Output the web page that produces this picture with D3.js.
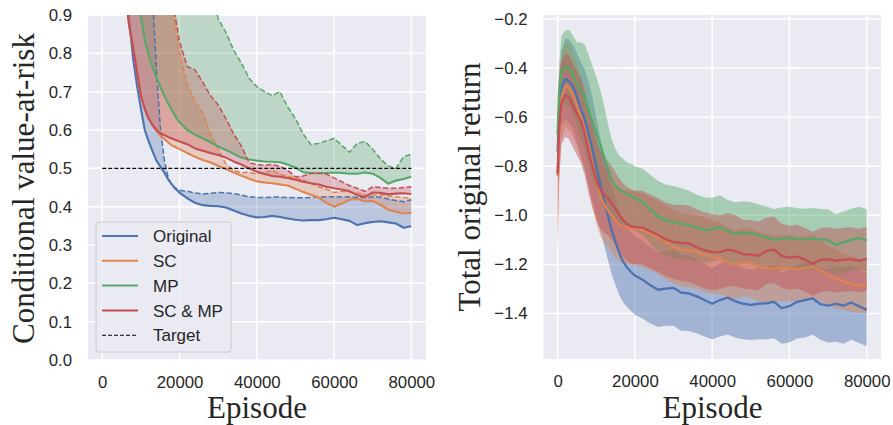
<!DOCTYPE html>
<html><head><meta charset="utf-8">
<script src="https://cdn.jsdelivr.net/npm/d3@7"></script>
<style>body{margin:0;background:#fff}svg{display:block}</style>
</head><body>
<svg id="c" width="893" height="425"></svg>
<script>
// ---------- DATA: left panel (CVaR) ----------
const episodesL = [0,2000,4000,6000,7000,8000,9000,10000,11000,12000,13000,14000,15000,16000,17000,18000,19000,20000,
  22000,24000,26000,28000,30000,32000,34000,36000,38000,40000,42000,44000,46000,48000,50000,52000,54000,56000,58000,60000,
  62000,64000,66000,68000,70000,72000,74000,76000,78000,80000];
const cvarOriginal = [1.6,1.35,1.12,0.98,0.88,0.785,0.715,0.655,0.60,0.57,0.545,0.52,0.505,0.49,0.472,0.458,0.446,0.436,
  0.422,0.41,0.404,0.402,0.401,0.398,0.39,0.382,0.376,0.372,0.373,0.376,0.373,0.369,0.366,0.364,0.365,0.365,0.367,0.371,
  0.367,0.363,0.352,0.357,0.36,0.362,0.359,0.356,0.345,0.349];
const cvarOriginalUpper = [1.9,1.8,1.7,1.6,1.55,1.5,1.45,1.4,1.3,1.2,0.95,0.76,0.61,0.525,0.478,0.456,0.448,0.443,
  0.44,0.436,0.433,0.435,0.437,0.436,0.434,0.43,0.426,0.424,0.424,0.425,0.425,0.424,0.423,0.423,0.424,0.425,0.426,0.426,
  0.425,0.425,0.424,0.424,0.425,0.425,0.42,0.416,0.413,0.418];
const cvarSC = [1.7,1.45,1.2,0.95,0.87,0.815,0.75,0.69,0.655,0.63,0.613,0.598,0.585,0.577,0.568,0.56,0.555,0.55,
  0.54,0.53,0.522,0.515,0.507,0.498,0.489,0.481,0.473,0.466,0.463,0.461,0.458,0.455,0.447,0.438,0.431,0.424,0.41,0.4,
  0.408,0.418,0.42,0.414,0.415,0.405,0.392,0.387,0.382,0.384];
const cvarSCUpper = [2.4,2.2,2.0,1.8,1.7,1.6,1.5,1.45,1.4,1.3,1.25,1.2,1.15,1.05,0.98,0.93,0.86,0.80,
  0.72,0.675,0.645,0.59,0.55,0.512,0.495,0.488,0.49,0.485,0.49,0.494,0.485,0.478,0.476,0.47,0.46,0.452,0.446,0.437,
  0.44,0.439,0.436,0.432,0.43,0.431,0.428,0.426,0.424,0.423];
const cvarMP = [1.8,1.6,1.45,1.25,1.12,1.02,0.95,0.895,0.835,0.795,0.765,0.738,0.713,0.69,0.67,0.652,0.635,0.62,
  0.6,0.588,0.578,0.568,0.557,0.548,0.538,0.528,0.523,0.52,0.518,0.517,0.516,0.51,0.502,0.49,0.487,0.487,0.488,0.489,
  0.488,0.486,0.486,0.489,0.486,0.475,0.46,0.468,0.472,0.478];
const cvarMPUpper = [3.0,2.8,2.6,2.4,2.3,2.2,2.1,2.0,1.9,1.85,1.8,1.75,1.7,1.6,1.55,1.5,1.45,1.4,
  1.3,1.2,1.1,0.98,0.89,0.855,0.808,0.775,0.735,0.713,0.70,0.69,0.70,0.66,0.63,0.59,0.562,0.565,0.572,0.578,
  0.56,0.542,0.565,0.57,0.55,0.525,0.506,0.5,0.53,0.537];
const cvarSCMP = [1.7,1.45,1.2,0.95,0.87,0.815,0.75,0.69,0.655,0.63,0.613,0.60,0.592,0.587,0.582,0.578,0.574,0.57,
  0.563,0.552,0.546,0.54,0.535,0.528,0.518,0.51,0.5,0.491,0.485,0.48,0.478,0.475,0.47,0.465,0.461,0.458,0.452,0.448,
  0.445,0.44,0.43,0.425,0.437,0.436,0.432,0.434,0.435,0.433];
const cvarSCMPUpper = [2.4,2.2,2.0,1.8,1.7,1.6,1.5,1.45,1.4,1.35,1.3,1.25,1.2,1.15,1.08,0.99,0.89,0.83,
  0.765,0.757,0.725,0.69,0.665,0.63,0.59,0.558,0.515,0.51,0.508,0.51,0.505,0.495,0.478,0.48,0.487,0.488,0.485,0.475,
  0.465,0.455,0.448,0.44,0.452,0.45,0.448,0.448,0.45,0.452];
const targetEpisodes = [0, 80000];
const targetValue = 0.5;

// ---------- DATA: right panel (return) ----------
const episodesR = [0,400,1000,2000,3000,4000,5000,6000,7000,8000,9000,10000,11000,12000,13000,14000,15000,16000,17000,18000,19000,20000,
  22000,24000,26000,28000,30000,32000,34000,36000,38000,40000,42000,44000,46000,48000,50000,52000,54000,56000,58000,60000,
  62000,64000,66000,68000,70000,72000,74000,76000,78000,80000];
const retOriginal = [-0.74,-0.58,-0.48,-0.445,-0.455,-0.475,-0.52,-0.565,-0.605,-0.665,-0.73,-0.80,-0.87,-0.94,-1.0,-1.06,-1.11,-1.155,-1.19,-1.213,-1.23,-1.245,
  -1.262,-1.285,-1.303,-1.298,-1.295,-1.315,-1.318,-1.33,-1.345,-1.36,-1.345,-1.335,-1.35,-1.36,-1.365,-1.36,-1.358,-1.352,-1.378,-1.37,
  -1.352,-1.345,-1.338,-1.362,-1.368,-1.36,-1.368,-1.355,-1.37,-1.385];
const retOriginalStd = [0.08,0.12,0.15,0.165,0.17,0.17,0.18,0.19,0.2,0.21,0.21,0.2,0.19,0.18,0.18,0.18,0.175,0.17,0.165,0.16,0.16,0.16,
  0.158,0.155,0.152,0.152,0.155,0.155,0.153,0.15,0.148,0.145,0.148,0.15,0.148,0.145,0.143,0.145,0.148,0.148,0.145,0.148,
  0.15,0.152,0.148,0.145,0.15,0.155,0.155,0.152,0.15,0.148];
const retSC = [-0.84,-0.66,-0.52,-0.47,-0.48,-0.51,-0.55,-0.6,-0.65,-0.72,-0.79,-0.86,-0.92,-0.955,-0.98,-1.0,-1.02,-1.038,-1.045,-1.048,-1.05,-1.052,
  -1.06,-1.075,-1.09,-1.11,-1.128,-1.14,-1.143,-1.15,-1.16,-1.168,-1.175,-1.19,-1.203,-1.19,-1.195,-1.21,-1.215,-1.218,-1.213,-1.215,
  -1.22,-1.215,-1.21,-1.225,-1.245,-1.258,-1.27,-1.28,-1.285,-1.29];
const retSCStd = [0.25,0.2,0.17,0.17,0.17,0.17,0.17,0.17,0.17,0.17,0.17,0.17,0.16,0.155,0.15,0.15,0.15,0.15,0.15,0.15,0.15,0.15,
  0.15,0.15,0.15,0.15,0.15,0.15,0.15,0.15,0.15,0.15,0.145,0.145,0.14,0.14,0.14,0.14,0.14,0.135,0.135,0.135,
  0.13,0.13,0.13,0.125,0.12,0.12,0.115,0.115,0.11,0.11];
const retMP = [-0.67,-0.5,-0.41,-0.395,-0.40,-0.43,-0.465,-0.49,-0.52,-0.57,-0.62,-0.665,-0.71,-0.76,-0.81,-0.855,-0.88,-0.895,-0.905,-0.915,-0.92,-0.93,
  -0.945,-0.975,-1.005,-1.02,-1.027,-1.035,-1.04,-1.05,-1.06,-1.058,-1.048,-1.065,-1.075,-1.07,-1.072,-1.08,-1.09,-1.1,-1.095,-1.092,
  -1.097,-1.098,-1.095,-1.098,-1.1,-1.12,-1.11,-1.1,-1.092,-1.102];
const retMPStd = [0.08,0.12,0.14,0.15,0.155,0.16,0.17,0.195,0.215,0.225,0.23,0.23,0.225,0.21,0.185,0.165,0.15,0.138,0.135,0.13,0.13,0.13,
  0.135,0.14,0.145,0.145,0.147,0.145,0.14,0.135,0.133,0.13,0.13,0.128,0.128,0.127,0.126,0.125,0.126,0.126,0.127,0.127,
  0.126,0.125,0.125,0.124,0.125,0.125,0.126,0.127,0.127,0.127];
const retSCMP = [-0.83,-0.64,-0.54,-0.51,-0.52,-0.555,-0.585,-0.615,-0.665,-0.74,-0.80,-0.855,-0.895,-0.915,-0.93,-0.95,-0.975,-1.0,-1.02,-1.035,-1.045,-1.048,
  -1.05,-1.065,-1.08,-1.098,-1.108,-1.112,-1.115,-1.13,-1.142,-1.15,-1.15,-1.14,-1.145,-1.158,-1.16,-1.165,-1.145,-1.14,-1.165,-1.172,
  -1.168,-1.18,-1.197,-1.182,-1.178,-1.185,-1.18,-1.178,-1.185,-1.177];
const retSCMPStd = [0.32,0.22,0.17,0.17,0.17,0.17,0.17,0.17,0.17,0.17,0.17,0.165,0.16,0.155,0.15,0.15,0.15,0.15,0.15,0.15,0.15,0.15,
  0.15,0.15,0.15,0.15,0.15,0.155,0.155,0.155,0.155,0.155,0.15,0.15,0.145,0.14,0.14,0.14,0.135,0.135,0.13,0.13,
  0.13,0.13,0.13,0.13,0.13,0.13,0.13,0.13,0.13,0.13];

// ---------- labels / ticks ----------
const seriesNames = ["Original", "SC", "MP", "SC & MP"];
const targetName = "Target";
const seriesColors = ["#4C72B0", "#DD8452", "#55A868", "#C44E52"];
const xTickValues = [0, 20000, 40000, 60000, 80000];
const yTicksL = [0, 0.1, 0.2, 0.3, 0.4, 0.5, 0.6, 0.7, 0.8, 0.9];
const yTicksR = [-1.4, -1.2, -1.0, -0.8, -0.6, -0.4, -0.2];
const xTitle = "Episode";
const yTitleL = "Conditional value-at-risk";
const yTitleR = "Total original return";

// ---------- drawing ----------
const svg = d3.select("#c");
const BG = "#EAEAF2", TXT = "#262626";
const SANS = "'Liberation Sans', Arial, Helvetica, sans-serif";
const SERIF = "'Liberation Serif', 'Times New Roman', Times, serif";

const xL = d3.scaleLinear().domain([-3700, 83800]).range([88, 426]);
const yL = d3.scaleLinear().domain([0, 0.9]).range([360, 15]);
const xR = d3.scaleLinear().domain([-3650, 83700]).range([543.5, 881]);
const yR = d3.scaleLinear().domain([-1.585, -0.184]).range([359, 15]);

function panel(x, y, yTicks, yFmt, clipId) {
  const [x0, x1] = x.range(), [yb, yt] = y.range();
  const g = svg.append("g");
  g.append("rect").attr("x", x0).attr("y", yt).attr("width", x1 - x0).attr("height", yb - yt).attr("fill", BG);
  g.selectAll(null).data(xTickValues).join("line")
    .attr("x1", d => x(d)).attr("x2", d => x(d)).attr("y1", yt).attr("y2", yb)
    .attr("stroke", "#fff").attr("stroke-width", 1.5);
  g.selectAll(null).data(yTicks).join("line")
    .attr("x1", x0).attr("x2", x1).attr("y1", d => y(d)).attr("y2", d => y(d))
    .attr("stroke", "#fff").attr("stroke-width", 1.5);
  svg.append("clipPath").attr("id", clipId).append("rect")
    .attr("x", x0).attr("y", yt).attr("width", x1 - x0).attr("height", yb - yt);
  const ax = g.append("g").attr("transform", `translate(0,${yb})`)
    .call(d3.axisBottom(x).tickValues(xTickValues).tickSize(0).tickPadding(16).tickFormat(d3.format("d")));
  const ay = g.append("g").attr("transform", `translate(${x0},0)`)
    .call(d3.axisLeft(y).tickValues(yTicks).tickSize(0).tickPadding(16).tickFormat(yFmt));
  [ax, ay].forEach(a => {
    a.select(".domain").remove();
    a.attr("font-family", SANS).attr("font-size", 16.8);
    a.selectAll("text").attr("fill", TXT);
  });
  return svg.append("g").attr("clip-path", `url(#${clipId})`);
}

// ----- left panel -----
const plotL = panel(xL, yL, yTicksL, d3.format(".1f"), "clipL");
const leftSeries = [
  {mean: cvarOriginal, upper: cvarOriginalUpper},
  {mean: cvarSC, upper: cvarSCUpper},
  {mean: cvarMP, upper: cvarMPUpper},
  {mean: cvarSCMP, upper: cvarSCMPUpper}
];
leftSeries.forEach((s, i) => {
  const area = d3.area().x((d, j) => xL(episodesL[j])).y0((d, j) => yL(s.mean[j])).y1((d, j) => yL(s.upper[j]));
  plotL.append("path").attr("d", area(episodesL)).attr("fill", seriesColors[i]).attr("fill-opacity", 0.3);
});
leftSeries.forEach((s, i) => {
  const lineM = d3.line().x((d, j) => xL(episodesL[j])).y(d => yL(d));
  plotL.append("path").attr("d", lineM(s.upper)).attr("fill", "none").attr("stroke", seriesColors[i])
    .attr("stroke-width", 1.5).attr("stroke-dasharray", "5.5,2.4");
  plotL.append("path").attr("d", lineM(s.mean)).attr("fill", "none").attr("stroke", seriesColors[i])
    .attr("stroke-width", 2.1).attr("stroke-linejoin", "round");
});
plotL.append("path")
  .attr("d", d3.line().x(d => xL(d)).y(() => yL(targetValue))(targetEpisodes))
  .attr("fill", "none").attr("stroke", "#000").attr("stroke-width", 1.1).attr("stroke-dasharray", "4,2");

// legend
const lg = svg.append("g");
lg.append("rect").attr("x", 96).attr("y", 222).attr("width", 135).attr("height", 130).attr("rx", 3)
  .attr("fill", BG).attr("fill-opacity", 0.8).attr("stroke", "#cccccc").attr("stroke-width", 1);
const legendItems = seriesNames.map((n, i) => ({name: n, color: seriesColors[i], dash: null, w: 2}))
  .concat([{name: targetName, color: "#000", dash: "4,2", w: 1.1}]);
legendItems.forEach((it, i) => {
  const yy = 236 + i * 24.8;
  lg.append("line").attr("x1", 102).attr("x2", 138).attr("y1", yy).attr("y2", yy)
    .attr("stroke", it.color).attr("stroke-width", it.w).attr("stroke-dasharray", it.dash);
  lg.append("text").attr("x", 153).attr("y", yy).attr("dy", "0.36em").text(it.name)
    .attr("font-family", SANS).attr("font-size", 17).attr("fill", TXT);
});

// ----- right panel -----
const plotR = panel(xR, yR, yTicksR, d3.format(".1f"), "clipR");
const rightSeries = [
  {mean: retOriginal, std: retOriginalStd},
  {mean: retSC, std: retSCStd},
  {mean: retMP, std: retMPStd},
  {mean: retSCMP, std: retSCMPStd}
];
rightSeries.forEach((s, i) => {
  const area = d3.area().x((d, j) => xR(episodesR[j])).y0((d, j) => yR(s.mean[j] - s.std[j])).y1((d, j) => yR(s.mean[j] + s.std[j]));
  plotR.append("path").attr("d", area(episodesR)).attr("fill", seriesColors[i]).attr("fill-opacity", 0.45);
});
rightSeries.forEach((s, i) => {
  const line = d3.line().x((d, j) => xR(episodesR[j])).y(d => yR(d));
  plotR.append("path").attr("d", line(s.mean)).attr("fill", "none").attr("stroke", seriesColors[i])
    .attr("stroke-width", 2.3).attr("stroke-linejoin", "round");
});

// ----- titles -----
function title(txt, x, y, rot) {
  svg.append("text").attr("transform", `translate(${x},${y}) rotate(${rot})`)
    .attr("text-anchor", "middle").attr("font-family", SERIF).attr("font-size", 31).attr("fill", TXT).text(txt);
}
title(xTitle, 257, 417.5, 0);
title(xTitle, 712.5, 417.5, 0);
title(yTitleL, 34, 188.5, -90);
title(yTitleR, 479.5, 187, -90);
</script>
</body></html>
